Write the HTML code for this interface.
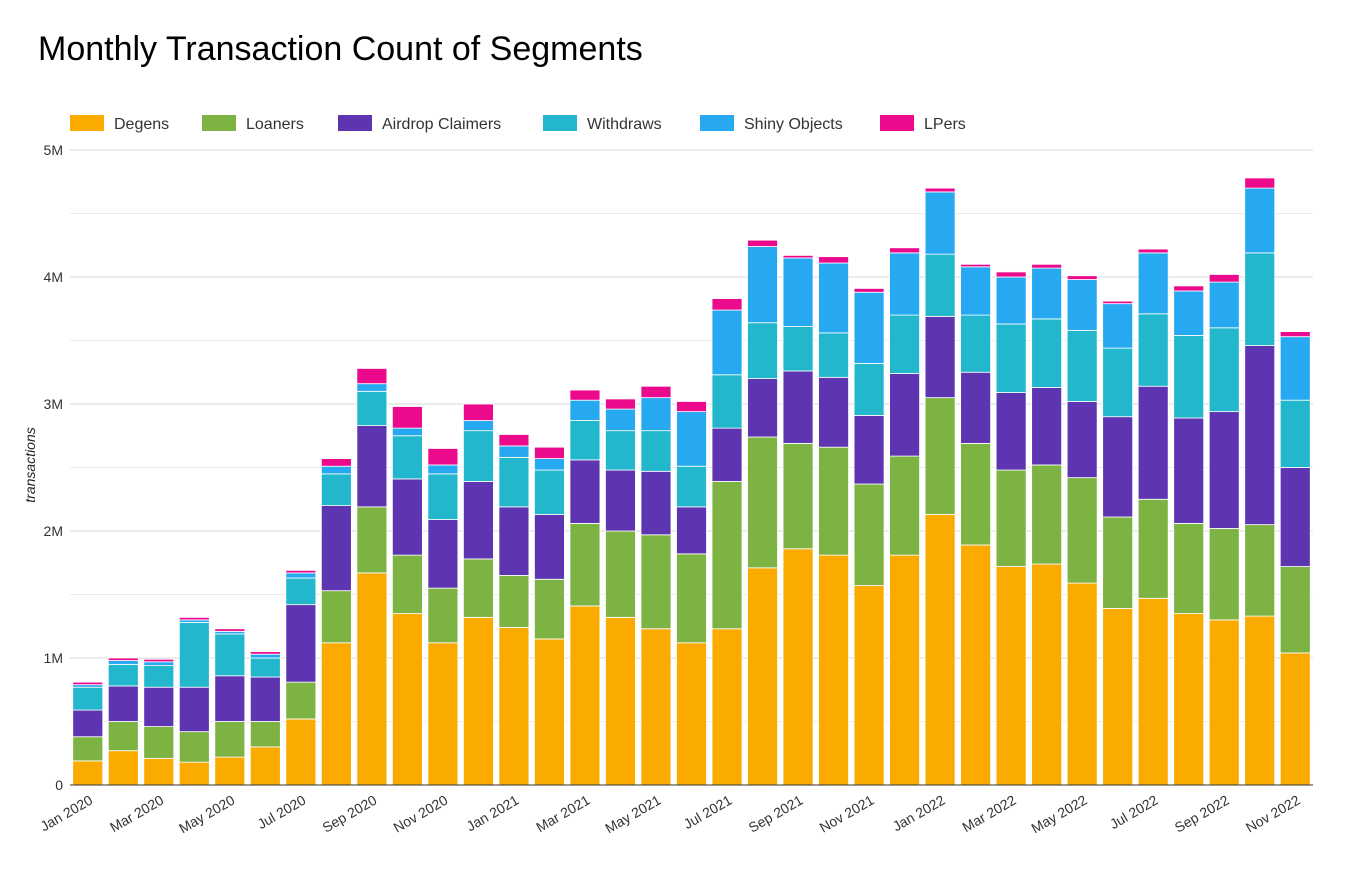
<!DOCTYPE html>
<html><head><meta charset="utf-8"><style>
body{margin:0;background:#fff;font-family:"Liberation Sans",Arial,sans-serif;}
svg text{font-family:"Liberation Sans",Arial,sans-serif;}
</style></head><body>
<svg id="chart" width="1352" height="878" xmlns="http://www.w3.org/2000/svg">
<rect width="1352" height="878" fill="#fff"/>
<text x="38" y="60" font-size="34" fill="#000">Monthly Transaction Count of Segments</text>
<g id="grid"></g><g id="bars"></g><g id="axes"></g><g id="legend"></g>
<text transform="translate(35,465) rotate(-90)" text-anchor="middle" font-size="14" font-style="italic" fill="#222">transactions</text>
</svg>
<script>
const categories=["Jan 2020","Feb 2020","Mar 2020","Apr 2020","May 2020","Jun 2020","Jul 2020","Aug 2020","Sep 2020","Oct 2020","Nov 2020","Dec 2020","Jan 2021","Feb 2021","Mar 2021","Apr 2021","May 2021","Jun 2021","Jul 2021","Aug 2021","Sep 2021","Oct 2021","Nov 2021","Dec 2021","Jan 2022","Feb 2022","Mar 2022","Apr 2022","May 2022","Jun 2022","Jul 2022","Aug 2022","Sep 2022","Oct 2022","Nov 2022"];
const degens=[0.19,0.27,0.21,0.18,0.22,0.30,0.52,1.12,1.67,1.35,1.12,1.32,1.24,1.15,1.41,1.32,1.23,1.12,1.23,1.71,1.86,1.81,1.57,1.81,2.13,1.89,1.72,1.74,1.59,1.39,1.47,1.35,1.30,1.33,1.04];
const loaners=[0.19,0.23,0.25,0.24,0.28,0.20,0.29,0.41,0.52,0.46,0.43,0.46,0.41,0.47,0.65,0.68,0.74,0.70,1.16,1.03,0.83,0.85,0.80,0.78,0.92,0.80,0.76,0.78,0.83,0.72,0.78,0.71,0.72,0.72,0.68];
const airdrop=[0.21,0.28,0.31,0.35,0.36,0.35,0.61,0.67,0.64,0.60,0.54,0.61,0.54,0.51,0.50,0.48,0.50,0.37,0.42,0.46,0.57,0.55,0.54,0.65,0.64,0.56,0.61,0.61,0.60,0.79,0.89,0.83,0.92,1.41,0.78];
const withdraws=[0.18,0.17,0.17,0.51,0.33,0.15,0.21,0.25,0.27,0.34,0.36,0.40,0.39,0.35,0.31,0.31,0.32,0.32,0.42,0.44,0.35,0.35,0.41,0.46,0.49,0.45,0.54,0.54,0.56,0.54,0.57,0.65,0.66,0.73,0.53];
const shiny=[0.02,0.03,0.03,0.02,0.02,0.03,0.04,0.06,0.06,0.06,0.07,0.08,0.09,0.09,0.16,0.17,0.26,0.43,0.51,0.60,0.54,0.55,0.56,0.49,0.49,0.38,0.37,0.40,0.40,0.35,0.48,0.35,0.36,0.51,0.50];
const lpers=[0.02,0.02,0.02,0.02,0.02,0.02,0.02,0.06,0.12,0.17,0.13,0.13,0.09,0.09,0.08,0.08,0.09,0.08,0.09,0.05,0.02,0.05,0.03,0.04,0.03,0.02,0.04,0.03,0.03,0.02,0.03,0.04,0.06,0.08,0.04];
const seriesNames=["Degens","Loaners","Airdrop Claimers","Withdraws","Shiny Objects","LPers"];
const yTicks=[0,1,2,3,4,5];
const yTickLabels=["0","1M","2M","3M","4M","5M"];

const colors=["#fbaa00","#7cb342","#5e35b1","#22b7cc","#27a9f1","#ec0a8c"];
const series=[degens,loaners,airdrop,withdraws,shiny,lpers];
const NS="http://www.w3.org/2000/svg";
const X0=70,X1=1313,Y0=785,Y5=150,YMAX=5;
const band=(X1-X0)/categories.length, bw=30;
const y=v=>Y0-(v/YMAX)*(Y0-Y5);
const xc=i=>X0+band*(i+0.5);
function mk(t,a,p){const e=document.createElementNS(NS,t);for(const k in a)e.setAttribute(k,a[k]);p.appendChild(e);return e;}
const grid=document.getElementById('grid'),bars=document.getElementById('bars'),axes=document.getElementById('axes'),legend=document.getElementById('legend');
for(let m=1;m<=10;m++){const v=m*0.5;const l=mk('line',{x1:X0,x2:X1,y1:y(v),y2:y(v),stroke:m%2?'#ececec':'#d9d9d9','stroke-width':1},grid);

}
yTicks.forEach((v,i)=>{const t=mk('text',{x:63,y:y(v)+5,'text-anchor':'end','font-size':14,fill:'#333'},axes);t.textContent=yTickLabels[i];

});
const base=mk('line',{x1:X0,x2:X1,y1:Y0,y2:Y0,stroke:'#333','stroke-width':1},axes);


categories.forEach((c,i)=>{let cum=0;
 series.forEach((s,k)=>{const v=s[i];const r=mk('rect',{x:xc(i)-bw/2,y:y(cum+v),width:bw,height:Math.max(0,y(cum)-y(cum+v)),fill:colors[k],stroke:'#fff','stroke-width':0.8},bars);
 
 
 cum+=v;});
 if(i%2===0){const t=mk('text',{x:0,y:0,'text-anchor':'end','font-size':14,fill:'#333',transform:`translate(${xc(i)+6},${Y0+18}) rotate(-30)`},axes);t.textContent=c;
 
 }
});
const lx=[70,202,338,543,700,880];
seriesNames.forEach((n,k)=>{const g=mk('g',{},legend);


mk('rect',{x:lx[k],y:115,width:34,height:16,fill:colors[k]},g);
const t=mk('text',{x:lx[k]+44,y:129,'font-size':16,fill:'#333'},g);t.textContent=n;});
</script>
</body></html>
